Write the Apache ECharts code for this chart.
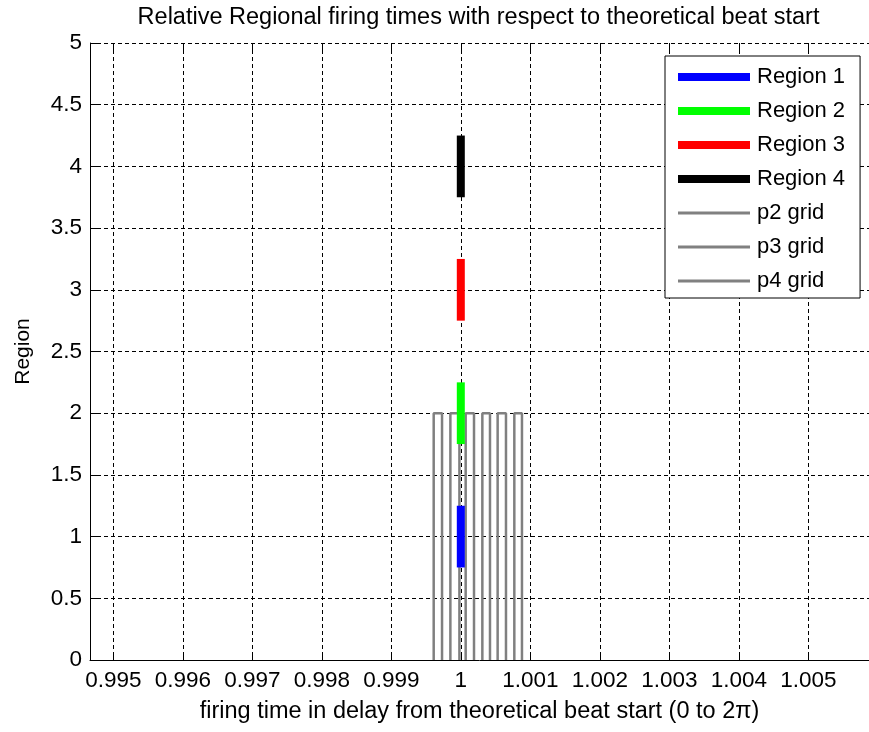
<!DOCTYPE html>
<html>
<head>
<meta charset="utf-8">
<script src="https://cdn.jsdelivr.net/npm/echarts@6/dist/echarts.min.js"></script>
<style>
html,body{margin:0;padding:0;background:#fff;}
#chart{width:869px;height:732px;}
</style>
</head>
<body>
<div id="chart"></div>
<script>
// ---- data ----
const titleText = 'Relative Regional firing times with respect to theoretical beat start';
const xAxisName = 'firing time in delay from theoretical beat start (0 to 2\u03c0)';
const yAxisName = 'Region';
const xMin = 0.994665;
const xMax = 1.005873;
const yMin = 0;
const yMax = 5;
const yStep = 0.5;
const xStep = 0.001;

const regionNames = ['Region 1', 'Region 2', 'Region 3', 'Region 4'];
const regionColors = ['#0000ff', '#00ff00', '#ff0000', '#000000'];
const regionX = [1, 1, 1, 1];
const regionLow = [0.75, 1.75, 2.75, 3.75];
const regionHigh = [1.25, 2.25, 3.25, 4.25];

const gridNames = ['p2 grid', 'p3 grid', 'p4 grid'];
const gridColor = '#808080';
const p2GridX = [0.99961, 0.99973, 0.99985, 0.99998];
const p3GridX = [1.00007, 1.00019, 1.00031, 1.00042];
const p4GridX = [1.00053, 1.00065, 1.00077, 1.00088];
const gridBottom = 0;
const gridTop = 2;

// ---- build ----
const FONT = "'Liberation Sans', Arial, Helvetica, sans-serif";
const TXT = '#000';

function zigzag(xs) {
  const out = [];
  for (let i = 0; i < xs.length; i += 2) {
    out.push([xs[i], gridBottom], [xs[i], gridTop]);
    if (i + 1 < xs.length) out.push([xs[i + 1], gridTop], [xs[i + 1], gridBottom]);
    out.push('-');
  }
  return out;
}

const series = [];
[p2GridX, p3GridX, p4GridX].forEach((xs, i) => {
  series.push({
    name: gridNames[i], type: 'line', data: zigzag(xs), symbol: 'none', showSymbol: false,
    connectNulls: false, z: 2, silent: true, color: gridColor,
    itemStyle: { color: gridColor },
    lineStyle: { color: gridColor, width: 2.5 }
  });
});
regionNames.forEach((n, i) => {
  series.push({
    name: n, type: 'line', symbol: 'none', showSymbol: false, z: 3, silent: true,
    color: regionColors[i], itemStyle: { color: regionColors[i] },
    data: [[regionX[i], regionLow[i]], [regionX[i], regionHigh[i]]],
    lineStyle: { color: regionColors[i], width: 8, cap: 'butt' }
  });
});

// legend icons: visible bar inside a 74x22 box (invisible corner points keep the box)
const thickIcon = 'path://M0,0L0,0M74,22L74,22M0,7H72V15H0Z';
const thinIcon = 'path://M0,0L0,0M74,22L74,22M0,9.6H72V12.4H0Z';
const legendData = regionNames.map((n, i) => ({
  name: n, icon: thickIcon, itemStyle: { color: regionColors[i], borderWidth: 0 }
})).concat(gridNames.map(n => ({
  name: n, icon: thinIcon, itemStyle: { color: gridColor, borderWidth: 0 }
})));

const splitDash = { color: '#000', width: 1, type: [4, 3] };

function fmtX(v) {
  const k = Math.round(v / xStep);
  if (Math.abs(v / xStep - k) > 1e-6) return '';
  return String(+(k * xStep).toFixed(3));
}

const option = {
  animation: false,
  backgroundColor: '#fff',
  textStyle: { fontFamily: FONT },
  title: {
    text: titleText, left: 473.5, top: 1, textAlign: 'center',
    textStyle: { fontSize: 23.5, fontWeight: 'normal', color: TXT, fontFamily: FONT }
  },
  grid: { left: 90, top: 43, bottom: 72, right: 0, containLabel: false },
  legend: {
    orient: 'vertical', left: 665, top: 56,
    padding: [10, 15, 6, 13],
    itemWidth: 74, itemHeight: 22, itemGap: 12,
    backgroundColor: '#fff', borderColor: '#000', borderWidth: 1, borderRadius: 0,
    textStyle: { fontSize: 22, color: TXT, fontFamily: FONT },
    data: legendData,
    selectedMode: false
  },
  xAxis: [{
    type: 'value', position: 'bottom', min: xMin, max: xMax,
    splitNumber: 11, minInterval: xStep, maxInterval: xStep,
    name: xAxisName, nameLocation: 'middle', nameGap: 40,
    nameTextStyle: { fontSize: 23.5, color: TXT, fontFamily: FONT },
    axisLine: { show: true, onZero: false, lineStyle: { color: '#000', width: 1 } },
    axisTick: { show: true, inside: true, length: 7, lineStyle: { color: '#000', width: 1 } },
    axisLabel: { formatter: fmtX, fontSize: 22.5, color: TXT, fontFamily: FONT, margin: 9,
                 showMinLabel: false, showMaxLabel: false, hideOverlap: false },
    splitLine: { show: true, showMaxLine: false, lineStyle: splitDash }
  }, {
    type: 'value', position: 'top', min: xMin, max: xMax,
    splitNumber: 11, minInterval: xStep, maxInterval: xStep,
    axisLine: { show: false, onZero: false },
    axisTick: { show: true, inside: true, length: 7, lineStyle: { color: '#000', width: 1 } },
    axisLabel: { show: false },
    splitLine: { show: false }
  }],
  yAxis: {
    type: 'value', min: yMin, max: yMax, interval: yStep,
    name: yAxisName, nameLocation: 'middle', nameGap: 56,
    nameTextStyle: { fontSize: 21, color: TXT, fontFamily: FONT },
    axisLine: { show: true, onZero: false, lineStyle: { color: '#000', width: 1 } },
    axisTick: { show: true, inside: true, length: 7, lineStyle: { color: '#000', width: 1 } },
    axisLabel: { fontSize: 22.5, color: TXT, fontFamily: FONT, margin: 8 },
    splitLine: { show: true, lineStyle: splitDash }
  },
  series: series
};

const chart = echarts.init(document.getElementById('chart'), null, { renderer: 'canvas' });
chart.setOption(option);
</script>
</body>
</html>
